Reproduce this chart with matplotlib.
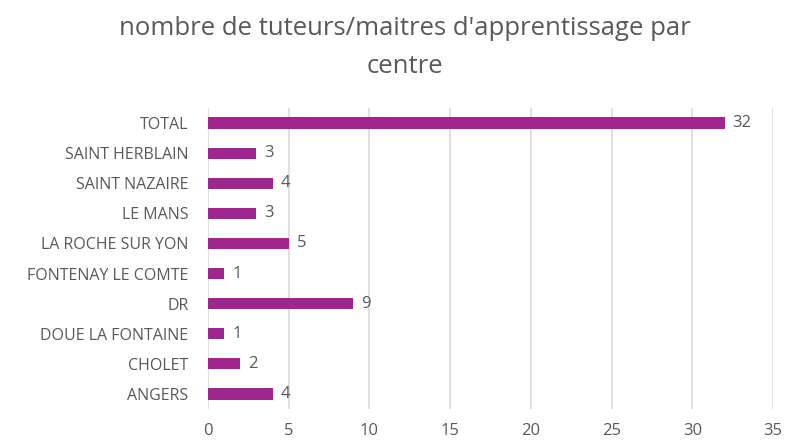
import matplotlib.pyplot as plt

centres = ['ANGERS', 'CHOLET', 'DOUE LA FONTAINE', 'DR', 'FONTENAY LE COMTE',
           'LA ROCHE SUR YON', 'LE MANS', 'SAINT NAZAIRE', 'SAINT HERBLAIN', 'TOTAL']
tuteurs = [4, 2, 1, 9, 1, 5, 3, 4, 3, 32]
xticks = [0, 5, 10, 15, 20, 25, 30, 35]

plt.rcParams['font.family'] = ['Open Sans', 'DejaVu Sans']
grey = '#595959'
purple = '#A0258F'

fig = plt.figure(figsize=(7.88, 4.41), dpi=100)
ax = fig.add_axes([0.264, 0.0726, 0.717, 0.6825])

ypos = range(len(centres))
ax.barh(ypos, tuteurs, height=0.37, color=purple, zorder=3)
for y, v in zip(ypos, tuteurs):
    ax.text(v + 0.5, y, str(v), va='center', ha='left', fontsize=12, color=grey)

ax.set_yticks(list(ypos))
ax.set_yticklabels(centres, fontsize=11.5, color=grey)
ax.set_xticks(xticks)
ax.set_xticklabels([str(t) for t in xticks], fontsize=12, color=grey)
ax.set_xlim(0, 35)
ax.set_ylim(-0.5, len(centres) - 0.5)
ax.tick_params(axis='both', length=0)
ax.tick_params(axis='x', pad=10)
ax.tick_params(axis='y', pad=14)
ax.grid(axis='x', color='#d9d9d9', linewidth=1.2, zorder=0)
for s in ax.spines.values():
    s.set_visible(False)

fig.text(0.514, 0.935, "nombre de tuteurs/maitres d'apprentissage par", ha='center',
         va='center', fontsize=18.5, color=grey)
fig.text(0.514, 0.85, "centre", ha='center', va='center', fontsize=18.5, color=grey)

fig.savefig('out.png', dpi=100)
